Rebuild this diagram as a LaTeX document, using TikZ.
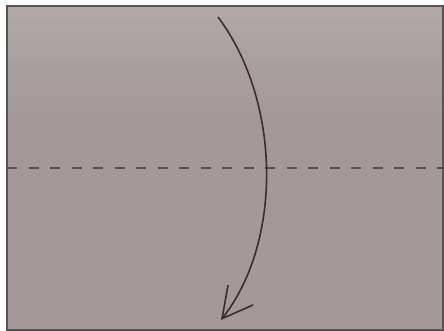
\documentclass[tikz,border=0pt]{standalone}
\usepackage{tikz}
\usetikzlibrary{arrows.meta}
\definecolor{paperlight}{RGB}{176,167,167}
\definecolor{papermid}{RGB}{163,153,154}
\definecolor{edgegray}{RGB}{90,83,83}
\definecolor{inkbrown}{RGB}{58,46,44}
\begin{document}
\begin{tikzpicture}[x=1pt, y=1pt,
    paper/.style={draw=edgegray, line width=1.2pt},
    fold/.style={draw=inkbrown!85, dashed, dash pattern=on 10pt off 11.5pt, line width=2pt},
    arr/.style={-{Straight Barb[length=30pt, width=32pt, line width=1.6pt]}, draw=inkbrown, line width=1.6pt}
]
\useasboundingbox[fill=white] (0,0) rectangle (444,331);
% the sheet
\fill[papermid] (7,1) rectangle (443,325);
\shade[top color=paperlight, bottom color=papermid] (7,215) rectangle (443,325);
\path[paper] (7,1) rectangle (443,325);
% valley fold line
\coordinate (foldL) at (7,163);
\coordinate (foldR) at (443,163);
\draw[fold] (foldL) -- (foldR);
% fold top edge down
\coordinate (top) at (218,314);
\coordinate (bottom) at (221,11);
\draw[arr] (top) .. controls (281,230) and (283,90) .. (bottom);
\end{tikzpicture}
\end{document}
